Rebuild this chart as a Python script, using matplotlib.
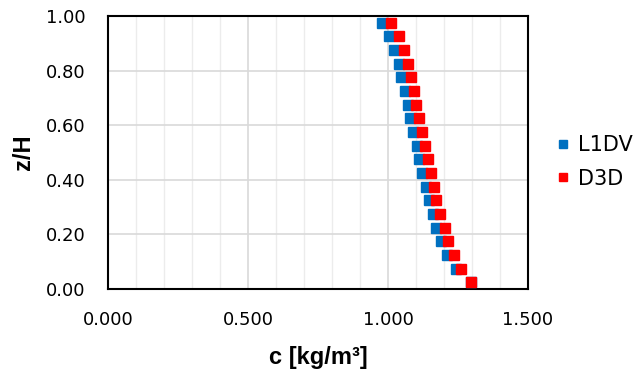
import matplotlib
matplotlib.use('Agg')
import matplotlib.pyplot as plt
from matplotlib.ticker import MultipleLocator, FormatStrFormatter

# data
z_over_h = [0.975, 0.925, 0.875, 0.825, 0.775, 0.725, 0.675, 0.625, 0.575, 0.525,
            0.475, 0.425, 0.375, 0.325, 0.275, 0.225, 0.175, 0.125, 0.075, 0.025]
c_l1dv = [0.977, 1.005, 1.023, 1.038, 1.048, 1.059, 1.070, 1.080, 1.091, 1.102,
          1.112, 1.122, 1.134, 1.145, 1.159, 1.173, 1.191, 1.212, 1.243, 1.295]
c_d3d = [1.012, 1.040, 1.057, 1.070, 1.082, 1.093, 1.101, 1.112, 1.122, 1.132,
         1.142, 1.152, 1.164, 1.173, 1.187, 1.202, 1.216, 1.235, 1.259, 1.298]

tick_font = 'DejaVu Sans'
label_font = 'Liberation Sans'

fig = plt.figure(figsize=(6.33, 3.74), dpi=100)
ax = fig.add_axes([108 / 633, 1 - 289 / 374, 420 / 633, 273 / 374])

ax.plot(c_l1dv, z_over_h, ls='none', marker='s', ms=6.5, color='#0070C0',
        mec='#0070C0', label='L1DV', zorder=3)
ax.plot(c_d3d, z_over_h, ls='none', marker='s', ms=6.5, color='#FF0000',
        mec='#FF0000', label='D3D', zorder=4)

ax.set_xlim(0, 1.5)
ax.set_ylim(0, 1.0)
ax.xaxis.set_major_locator(MultipleLocator(0.5))
ax.xaxis.set_minor_locator(MultipleLocator(0.1))
ax.yaxis.set_major_locator(MultipleLocator(0.2))
ax.xaxis.set_major_formatter(FormatStrFormatter('%.3f'))
ax.yaxis.set_major_formatter(FormatStrFormatter('%.2f'))

ax.grid(which='major', axis='both', color='#d9d9d9', lw=1.2, zorder=0)
ax.grid(which='minor', axis='x', color='#ececec', lw=1.0, zorder=0)
ax.set_axisbelow(True)

ax.tick_params(which='both', length=0, labelsize=13)
ax.tick_params(axis='x', pad=16)
ax.tick_params(axis='y', pad=16)
for lbl in ax.get_xticklabels() + ax.get_yticklabels():
    lbl.set_family(tick_font)

for s in ax.spines.values():
    s.set_color('black')
    s.set_linewidth(1.5)

ax.set_xlabel('c [kg/m\u00b3]', fontsize=17, fontweight='bold', family=label_font, labelpad=12)
ax.set_ylabel('z/H', fontsize=17, fontweight='bold', family=label_font, labelpad=8)

fig.legend(loc='center left', bbox_to_anchor=(557 / 633, 1 - 162 / 374), frameon=False,
           prop={'family': tick_font, 'size': 15}, handlelength=0.55, handletextpad=0.45,
           labelspacing=0.65, markerscale=0.9, borderaxespad=0, borderpad=0)

fig.savefig('out.png', dpi=100)
